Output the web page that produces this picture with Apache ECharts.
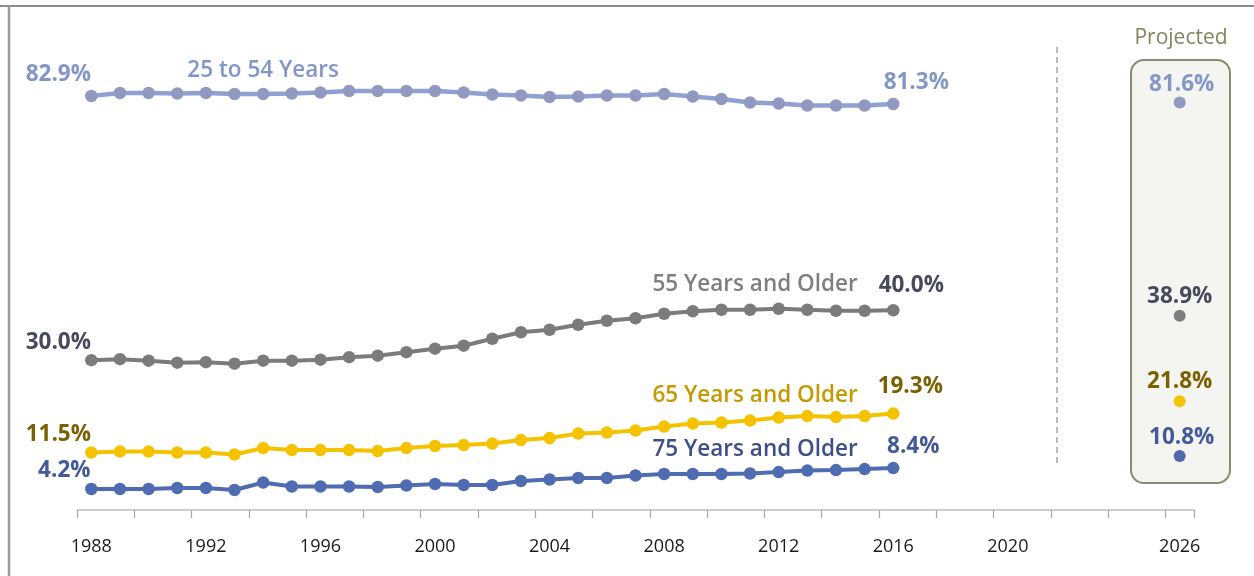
<!DOCTYPE html>
<html>
<head>
<meta charset="utf-8">
<script src="https://cdn.jsdelivr.net/npm/echarts@6/dist/echarts.min.js"></script>
<style>
  html, body { margin: 0; padding: 0; background: #ffffff; }
  #chart { width: 1254px; height: 576px; }
</style>
</head>
<body>
<div id="chart"></div>
<script>
// ---------- DATA ----------
const years = ['1988','1989','1990','1991','1992','1993','1994','1995','1996','1997',
  '1998','1999','2000','2001','2002','2003','2004','2005','2006','2007',
  '2008','2009','2010','2011','2012','2013','2014','2015','2016','2017',
  '2018','2019','2020','2021','2022','2023','2024','2025','2026'];
const shownYearLabels = ['1988','1992','1996','2000','2004','2008','2012','2016','2020','2026'];

const age25to54 = [82.9, 83.5, 83.5, 83.4, 83.5, 83.3, 83.3, 83.4, 83.6, 83.9, 83.9, 83.9, 83.9, 83.6,
  83.2, 83.0, 82.7, 82.8, 83.0, 83.0, 83.3, 82.8, 82.3, 81.6, 81.4, 81.0, 81.0, 81.0, 81.3];
const age55plus = [30.0, 30.2, 29.9, 29.5, 29.6, 29.3, 29.9, 29.9, 30.1, 30.6, 30.9, 31.6, 32.3, 32.9,
  34.3, 35.6, 36.1, 37.1, 37.9, 38.4, 39.3, 39.8, 40.1, 40.1, 40.3, 40.1, 39.9, 39.9, 40.0];
const age65plus = [11.5, 11.7, 11.7, 11.5, 11.5, 11.1, 12.4, 12.0, 12.0, 12.0, 11.8, 12.4, 12.8, 13.0,
  13.3, 14.0, 14.4, 15.3, 15.5, 15.9, 16.7, 17.3, 17.5, 17.9, 18.5, 18.8, 18.6, 18.8, 19.3];
const age75plus = [4.2, 4.2, 4.2, 4.4, 4.4, 4.0, 5.5, 4.7, 4.7, 4.7, 4.6, 4.9, 5.2, 5.0,
  5.0, 5.8, 6.1, 6.4, 6.4, 6.9, 7.2, 7.2, 7.2, 7.3, 7.6, 7.9, 8.0, 8.2, 8.4];

const seriesNames = ['25 to 54 Years', '55 Years and Older', '65 Years and Older', '75 Years and Older'];
const projectedYear = '2026';
const projectedValues = [81.6, 38.9, 21.8, 10.8];
const projectedTitle = 'Projected';

// ---------- STYLE ----------
const FONT = '"Open Sans", "Noto Sans", sans-serif';
const styles = [
  { line: '#8ea1d2', marker: '#9199c0', valueColor: '#8396c8', nameColor: '#8396c8', lw: 4.5,
    firstOff: [-33, -21], lastOff: [23, -21], nameIdx: 6, nameOff: [0, -23], projColor: '#9199c0', projLabel: '#8497c9', projOff: [2, -18] },
  { line: '#7b7b7b', marker: '#7b7b7b', valueColor: '#474a5c', nameColor: '#7f7f7f', lw: 4,
    firstOff: [-33, -18], lastOff: [18, -25], nameIdx: 23, nameOff: [5, -25], projColor: '#7f7f7f', projLabel: '#474a5c', projOff: [0, -19] },
  { line: '#f5c200', marker: '#f5c200', valueColor: '#7a6000', nameColor: '#c49a00', lw: 4,
    firstOff: [-33, -18], lastOff: [17, -27], nameIdx: 23, nameOff: [5, -25], projColor: '#f3c400', projLabel: '#7a6000', projOff: [0, -20] },
  { line: '#4f6bb1', marker: '#4f6bb1', valueColor: '#44599a', nameColor: '#3d4f8a', lw: 4,
    firstOff: [-27, -18], lastOff: [20, -21], nameIdx: 23, nameOff: [5, -24], projColor: '#4f69ae', projLabel: '#44599a', projOff: [2, -18] }
];
const allSeriesData = [age25to54, age55plus, age65plus, age75plus];

function labelStyle(color, offset, text, weight) {
  return {
    show: true, position: 'inside', offset: offset, formatter: text,
    color: color, fontFamily: FONT, fontSize: 22.5, fontWeight: weight,
    opacity: 1
  };
}

const series = [];
allSeriesData.forEach(function (arr, s) {
  const st = styles[s];
  const data = arr.map(function (v, i) {
    const item = { value: v };
    if (i === 0 || i === arr.length - 1) {
      item.label = labelStyle(st.valueColor, i === 0 ? st.firstOff : st.lastOff, v.toFixed(1) + '%', 700);
    } else if (i === st.nameIdx) {
      item.label = labelStyle(st.nameColor, st.nameOff, seriesNames[s], 600);
    }
    return item;
  });
  series.push({
    name: seriesNames[s], type: 'line', data: data, z: 3,
    symbol: 'circle', symbolSize: 12.5, showAllSymbol: true,
    lineStyle: { color: st.line, width: st.lw },
    itemStyle: { color: st.marker, opacity: 1 },
    label: { show: false },
    emphasis: { disabled: true },
    animation: false
  });
  series.push({
    name: seriesNames[s] + ' projected', type: 'scatter', z: 4,
    data: [{ value: [projectedYear, projectedValues[s]],
      label: labelStyle(st.projLabel, st.projOff, projectedValues[s].toFixed(1) + '%', 700) }],
    symbol: 'circle', symbolSize: 12,
    itemStyle: { color: st.projColor, opacity: 1 },
    emphasis: { disabled: true },
    animation: false
  });
});

const chart = echarts.init(document.getElementById('chart'), null, { renderer: 'canvas' });
chart.setOption({
  backgroundColor: '#ffffff',
  animation: false,
  grid: { left: 77, right: 60, top: 10.6, bottom: 66 },
  xAxis: {
    type: 'category', data: years, boundaryGap: true,
    axisLine: { show: true, lineStyle: { color: '#bfbfbf', width: 1.5 } },
    axisTick: { show: true, interval: 1, length: 8, lineStyle: { color: '#a6a6a6', width: 1.2 } },
    axisLabel: {
      interval: 0, margin: 28, color: '#1a1a1a', fontFamily: FONT, fontSize: 18,
      formatter: function (v) { return shownYearLabels.indexOf(v) >= 0 ? v : ''; }
    },
    splitLine: { show: false }
  },
  yAxis: {
    type: 'value', min: 0, max: 100, show: false, splitLine: { show: false }
  },
  graphic: [
    { type: 'line', z: 0, shape: { x1: 0, y1: 6, x2: 1254, y2: 6 }, style: { stroke: '#8c8c8c', lineWidth: 2 } },
    { type: 'line', z: 0, shape: { x1: 9, y1: 6, x2: 9, y2: 576 }, style: { stroke: '#9a9a9a', lineWidth: 2.5 } },
    { type: 'line', z: 0, shape: { x1: 1057, y1: 47, x2: 1057, y2: 467 },
      style: { stroke: '#a6a6a6', lineWidth: 1.5, lineDash: [6, 4] } },
    { type: 'rect', z: 0, shape: { x: 1131, y: 60, width: 99, height: 423, r: 13 },
      style: { fill: '#f4f4f0', stroke: '#8b8b70', lineWidth: 2 } },
    { type: 'text', z: 5, style: { text: projectedTitle, x: 1181, y: 38, align: 'center', verticalAlign: 'middle',
      fill: '#85835f', font: '21px ' + FONT } }
  ],
  series: series
});
</script>
</body>
</html>
